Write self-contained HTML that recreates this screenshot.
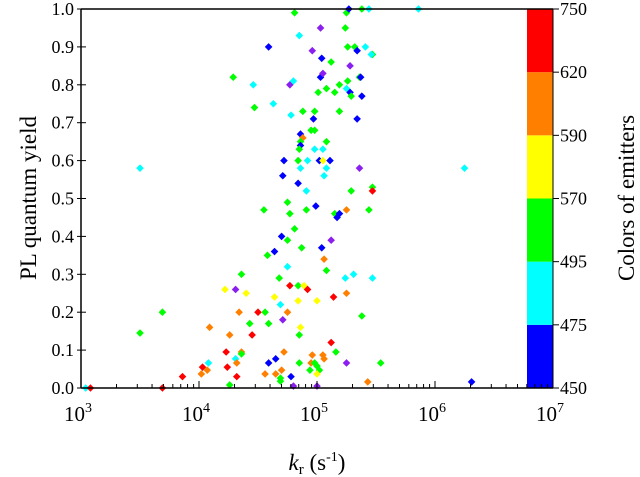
<!DOCTYPE html>
<html><head><meta charset="utf-8"><style>
body{margin:0;background:#fff}
svg{display:block}
svg text{font-family:"Liberation Serif","DejaVu Serif",serif}
</style></head><body>
<svg id="chart" width="640" height="477" viewBox="0 0 640 477" xmlns="http://www.w3.org/2000/svg" style="position:absolute;left:0;top:0">
<g id="plot"></g>
<text x="317" y="470" font-family="Liberation Serif, serif" font-size="23" text-anchor="middle"><tspan font-style="italic">k</tspan><tspan font-size="15" dy="4">r</tspan><tspan dy="-4"> (s</tspan><tspan font-size="14" dy="-9">-1</tspan><tspan dy="9">)</tspan></text>
<text transform="translate(36,198) rotate(-90)" font-family="Liberation Serif, serif" font-size="23" text-anchor="middle">PL quantum yield</text>
<text transform="translate(634,198) rotate(-90)" font-family="Liberation Serif, serif" font-size="23" text-anchor="middle">Colors of emitters</text>
</svg>
<script>
const logK=[4.81,5.25,5.27,5.38,5.44,5.03,5.24,4.85,4.59,4.96,5.26,5.32,5.34,5.41,5.47,5.46,5.04,5.12,5.28,4.29,4.46,4.77,4.80,5.03,5.05,5.26,5.36,5.37,5.19,5.25,5.28,5.29,5.38,5.01,5.08,5.15,4.47,4.63,4.78,4.88,4.98,5.19,4.97,5.34,4.95,4.98,4.86,4.88,4.86,4.86,5.08,4.85,4.98,5.05,4.72,4.84,4.92,5.02,5.05,5.11,4.86,5.08,5.36,4.71,5.06,4.84,4.91,5.29,5.47,5.47,4.75,4.99,4.55,4.77,4.91,5.15,5.19,5.17,5.25,5.44,4.81,4.70,4.75,5.12,4.87,5.04,4.64,4.58,5.06,4.75,5.08,4.36,4.68,5.24,5.31,5.47,4.22,4.31,4.40,4.77,4.84,4.89,4.92,4.64,5.14,5.25,4.84,5.00,4.69,4.34,4.50,4.56,4.75,4.71,5.38,4.09,4.43,4.59,4.86,4.26,4.45,4.85,5.12,5.16,4.23,4.36,4.36,4.72,4.96,5.05,5.06,4.08,4.31,4.32,4.03,4.07,4.24,4.59,4.65,4.85,4.95,4.98,5.25,5.54,4.94,5.02,5.00,4.70,4.02,3.86,4.32,4.56,4.65,5.00,4.78,4.69,4.69,5.43,4.26,4.80,5.00,3.50,3.50,3.69,3.69,3.04,3.08,5.86,6.25,6.31];
const plqy=[0.99,0.99,1.0,1.0,1.0,0.95,0.95,0.93,0.90,0.89,0.90,0.90,0.89,0.90,0.88,0.88,0.87,0.86,0.85,0.82,0.80,0.80,0.81,0.82,0.83,0.81,0.82,0.82,0.80,0.79,0.78,0.77,0.77,0.78,0.79,0.78,0.74,0.75,0.72,0.73,0.73,0.73,0.71,0.71,0.68,0.68,0.67,0.66,0.65,0.64,0.65,0.63,0.63,0.63,0.60,0.60,0.60,0.60,0.60,0.60,0.58,0.58,0.58,0.56,0.56,0.54,0.52,0.52,0.53,0.52,0.49,0.48,0.47,0.46,0.47,0.46,0.46,0.45,0.47,0.47,0.42,0.40,0.39,0.39,0.37,0.37,0.36,0.35,0.34,0.32,0.31,0.30,0.29,0.29,0.30,0.29,0.26,0.26,0.25,0.27,0.27,0.27,0.26,0.24,0.24,0.25,0.23,0.23,0.22,0.20,0.20,0.20,0.20,0.18,0.19,0.16,0.17,0.17,0.16,0.14,0.14,0.14,0.12,0.095,0.095,0.095,0.09,0.095,0.087,0.087,0.077,0.066,0.077,0.066,0.055,0.047,0.055,0.066,0.077,0.066,0.066,0.066,0.066,0.066,0.047,0.047,0.058,0.047,0.037,0.03,0.03,0.037,0.037,0.037,0.03,0.026,0.018,0.016,0.008,0.005,0.005,0.58,0.145,0.20,0.0,0.0,0.0,1.0,0.58,0.016];
const emitterColor=["G","G","B","G","C","P","G","C","B","P","G","G","B","C","G","C","B","G","P","G","C","P","C","B","P","G","G","B","G","C","B","G","B","G","G","G","G","C","C","G","G","G","B","B","G","G","B","O","G","B","G","G","C","C","B","G","C","B","Y","B","C","C","P","B","C","B","C","G","G","R","G","B","G","G","G","G","B","B","O","G","G","B","G","P","G","B","B","G","O","C","G","G","G","C","C","C","Y","P","Y","R","G","Y","R","Y","R","O","Y","Y","C","O","R","G","O","P","G","O","G","G","Y","O","R","G","R","G","R","O","G","O","O","O","O","C","C","O","R","O","R","B","B","G","O","G","P","G","G","G","G","O","O","R","R","O","O","Y","B","G","G","O","G","P","P","C","G","G","R","C","R","C","C","B"];
const xTickExp=[3,4,5,6,7];
const yTicks=[0.0,0.1,0.2,0.3,0.4,0.5,0.6,0.7,0.8,0.9,1.0];
const cbarLabels=["450","475","495","570","590","620","750"];
const cbarColors=["#0000ff","#00ffff","#00ff00","#ffff00","#ff8000","#ff0000"];

const palette={B:"#0000ff",C:"#00ffff",G:"#00ff00",Y:"#ffff00",O:"#ff8000",R:"#ff0000",P:"#8a1ff0"};
const X0=81,X1=553,Y0=388,Y1=9;
const xs=v=>X0+(v-3)/4*(X1-X0);
const ys=v=>Y0-v*(Y0-Y1);
const NS="http://www.w3.org/2000/svg";
const g=document.getElementById('plot');
const FONT='"Liberation Serif","DejaVu Serif",serif';
function mk(t,a,p){const e=document.createElementNS(NS,t);for(const k in a)e.setAttribute(k,a[k]);(p||g).appendChild(e);return e;}

for(let i=0;i<logK.length;i++){
  const cx=xs(logK[i]),cy=ys(plqy[i]),r=3.8;
  const p=mk('polygon',{points:`${cx},${cy-r} ${cx+r},${cy} ${cx},${cy+r} ${cx-r},${cy}`,fill:palette[emitterColor[i]]});
  
  
}
const cbX=527,cbW=26,segH=(Y0-Y1)/cbarColors.length;
for(let i=0;i<cbarColors.length;i++){
  const r=mk('rect',{x:cbX,y:Y0-(i+1)*segH,width:cbW,height:segH,fill:cbarColors[i]});
  
  
}
for(let i=0;i<cbarLabels.length;i++){
  const y=Y0-i*segH;
  mk('line',{x1:X1,x2:X1+6,y1:y,y2:y,stroke:'#000','stroke-width':1});
  const t=mk('text',{x:X1+7,y:y+6,'font-size':18,'font-family':FONT});
  t.textContent=cbarLabels[i];
  
  
}
mk('line',{x1:X0,x2:X0,y1:Y1,y2:Y0,stroke:'#000','stroke-width':1.5});
mk('line',{x1:X0,x2:X1,y1:Y1,y2:Y1,stroke:'#000','stroke-width':1.5});
mk('line',{x1:X0,x2:X1,y1:Y0,y2:Y0,stroke:'#000','stroke-width':1.5});
mk('line',{x1:X1,x2:X1,y1:Y1,y2:Y0,stroke:'#000','stroke-width':1});
yTicks.forEach(v=>{
  const y=ys(v);
  mk('line',{x1:X0,x2:X0+5,y1:y,y2:y,stroke:'#000','stroke-width':1});
  mk('line',{x1:X0-4,x2:X0,y1:y,y2:y,stroke:'#000','stroke-width':1});
  const t=mk('text',{x:X0-7,y:y+6,'font-size':18,'text-anchor':'end','font-family':FONT});
  t.textContent=v.toFixed(1);
  
  
});
xTickExp.forEach((e,i)=>{
  const x=xs(e);
  mk('line',{x1:x,x2:x,y1:Y0,y2:Y0-7,stroke:'#000','stroke-width':1});
  if(i<xTickExp.length-1){for(let m=2;m<10;m++){const xm=xs(e+Math.log10(m));mk('line',{x1:xm,x2:xm,y1:Y0,y2:Y0-4,stroke:'#000','stroke-width':1});}}
  const t=mk('text',{x:x-3,y:421,'font-size':21,'text-anchor':'middle','font-family':FONT});
  t.innerHTML='10<tspan font-size="14" dy="-9">'+e+'</tspan>';
  
  
});
</script>
</body></html>
